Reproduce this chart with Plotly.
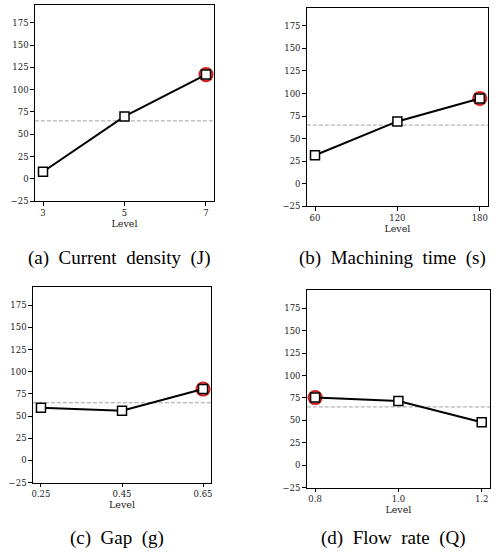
import plotly.graph_objects as go

# factor levels and mean response per level
levels_j = [3, 5, 7]
means_j = [8, 70, 117]
labels_j = ["3", "5", "7"]

levels_t = [60, 120, 180]
means_t = [31.5, 69, 94.5]
labels_t = ["60", "120", "180"]

levels_g = [0.25, 0.45, 0.65]
means_g = [59.5, 56, 80.5]
labels_g = ["0.25", "0.45", "0.65"]

levels_q = [0.8, 1.0, 1.2]
means_q = [75.5, 71.5, 48]
labels_q = ["0.8", "1.0", "1.2"]

grand_mean = 65
y_ticks = [-25, 0, 25, 50, 75, 100, 125, 150, 175]
captions = ["(a)  Current  density  (J)", "(b)  Machining  time  (s)",
            "(c)  Gap  (g)", "(d)  Flow  rate  (Q)"]

W, H = 498, 559

# panel boxes in pixels: left, right, top, bottom
boxes = [
    (34, 214, 5, 203),
    (307, 489, 8, 208),
    (32, 211, 290, 487),
    (307, 491, 293, 492),
]
caption_y = [260, 260, 543, 543]

panels = [
    (levels_j, means_j, labels_j),
    (levels_t, means_t, labels_t),
    (levels_g, means_g, labels_g),
    (levels_q, means_q, labels_q),
]

tick_font = dict(family="DejaVu Serif", size=8.5, color="#222")

fig = go.Figure()

for i, ((lv, mv, lab), (l, r, t, b)) in enumerate(zip(panels, boxes)):
    n = i + 1
    xa = "x" if n == 1 else f"x{n}"
    ya = "y" if n == 1 else f"y{n}"
    span = lv[-1] - lv[0]
    x0, x1 = lv[0] - 0.05 * span, lv[-1] + 0.05 * span

    fig.add_trace(go.Scatter(
        x=[x0, x1], y=[grand_mean, grand_mean], mode="lines",
        line=dict(color="#a0a0a0", width=1, dash="4px,2px"),
        xaxis=xa, yaxis=ya, showlegend=False, hoverinfo="skip",
    ))

    best = mv.index(max(mv))
    fig.add_trace(go.Scatter(
        x=[lv[best]], y=[mv[best]], mode="markers",
        marker=dict(symbol="circle", size=13, color="rgba(230,60,60,0.25)",
                    line=dict(color="#d42020", width=2.2)),
        xaxis=xa, yaxis=ya, showlegend=False,
    ))

    fig.add_trace(go.Scatter(
        x=lv, y=mv, mode="lines+markers",
        line=dict(color="black", width=2),
        marker=dict(symbol="square", size=9, color="white",
                    line=dict(color="black", width=1.5)),
        xaxis=xa, yaxis=ya, showlegend=False,
    ))

    axis_common = dict(
        showline=True, mirror=True, linecolor="black", linewidth=1.2,
        ticks="outside", ticklen=3.5, tickwidth=1, tickcolor="black",
        showgrid=False, zeroline=False, tickfont=tick_font,
    )
    fig.update_layout({
        f"xaxis{'' if n == 1 else n}": dict(
            domain=[l / W, r / W], anchor=ya, range=[x0, x1],
            tickvals=lv, ticktext=lab,
            title=dict(text="Level", standoff=2,
                       font=dict(family="DejaVu Serif", size=9.5, color="#222")),
            **axis_common,
        ),
        f"yaxis{'' if n == 1 else n}": dict(
            domain=[1 - b / H, 1 - t / H], anchor=xa, range=[-25, 195],
            tickvals=y_ticks,
            **axis_common,
        ),
    })

    fig.add_annotation(
        text=captions[i], xref="paper", yref="paper",
        x=(l + r) / 2 / W - 0.01, y=1 - caption_y[i] / H,
        xanchor="center", yanchor="middle", showarrow=False,
        font=dict(family="Liberation Serif", size=19, color="black"),
    )

fig.update_layout(
    width=W, height=H,
    margin=dict(l=0, r=0, t=0, b=0),
    plot_bgcolor="white", paper_bgcolor="white",
)

fig.write_html(
    "out.html",
    config={"displayModeBar": False},
    post_script="document.body.style.margin='0';document.body.style.overflow='hidden';",
)
